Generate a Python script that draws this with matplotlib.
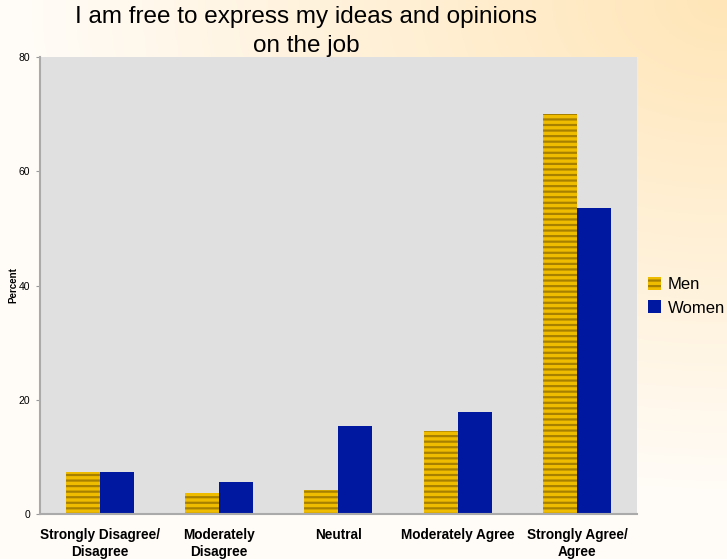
import numpy as np
import matplotlib.pyplot as plt
from matplotlib.patches import Patch

# dados
categorias = ["Strongly Disagree/\nDisagree", "Moderately\nDisagree", "Neutral",
              "Moderately Agree", "Strongly Agree/\nAgree"]
homens = [7.3, 3.7, 4.2, 14.5, 70.0]
mulheres = [7.3, 5.6, 15.4, 17.9, 53.6]
ticks_y = [0, 20, 40, 60, 80]

plt.rcParams['font.family'] = ['Liberation Sans', 'DejaVu Sans']
plt.rcParams['hatch.linewidth'] = 1.6

fig = plt.figure(figsize=(7.27, 5.59), dpi=100)

# fundo em degrade (creme com laranja suave no canto superior direito)
fundo = fig.add_axes([0, 0, 1, 1], zorder=-10)
gx, gy = np.meshgrid(np.linspace(0, 1, 200), np.linspace(0, 1, 200))
d = np.clip(1.0 - np.sqrt((1 - gx) ** 2 + (gy) ** 2 * 1.2), 0, 1)
c0 = np.array([1.0, 0.99, 0.975])
c1 = np.array([1.0, 0.90, 0.72])
img = c0[None, None, :] * (1 - d[..., None]) + c1[None, None, :] * d[..., None]
fundo.imshow(img, extent=[0, 1, 0, 1], aspect='auto', origin='upper')
fundo.axis('off')

ax = fig.add_axes([0.055, 0.0805, 0.821, 0.8175])
ax.set_facecolor('#e0e0e0')

x = np.arange(len(categorias))
larg = 0.285
ax.bar(x - larg / 2, homens, larg, color='#f0bc00', edgecolor='#a88000',
       hatch='---', linewidth=0, label='Men')
ax.bar(x + larg / 2, mulheres, larg, color='#0018a0', linewidth=0, label='Women')

ax.set_xlim(-0.5, len(categorias) - 0.5)
ax.set_ylim(0, 80)
ax.set_yticks(ticks_y)
ax.tick_params(axis='y', labelsize=7.5, length=3, color='#999999', pad=4)
ax.set_xticks(x)
ax.set_xticklabels(categorias, fontsize=9.8, fontweight='bold', linespacing=1.25)
ax.tick_params(axis='x', length=0, pad=10)
for s in ['top', 'right']:
    ax.spines[s].set_visible(False)
for s in ['left', 'bottom']:
    ax.spines[s].set_color('#aaaaaa')
    ax.spines[s].set_linewidth(1.5)
fig.text(0.019, 0.49, 'Percent', rotation=90, ha='center', va='center',
         fontsize=7, fontweight='bold')

fig.text(0.421, 0.99, "I am free to express my ideas and opinions\non the job",
         ha='center', va='top', fontsize=17.5, linespacing=1.45)

maos = [Patch(facecolor='#f0bc00', edgecolor='#a88000', hatch='---', linewidth=0),
        Patch(facecolor='#0018a0', linewidth=0)]
fig.legend(maos, ['Men', 'Women'], loc='center left', bbox_to_anchor=(0.891, 0.47),
           frameon=False, fontsize=12, handlelength=0.8, handleheight=0.8,
           handletextpad=0.4, labelspacing=0.5, borderaxespad=0, borderpad=0)

fig.savefig('out.png', dpi=100)
